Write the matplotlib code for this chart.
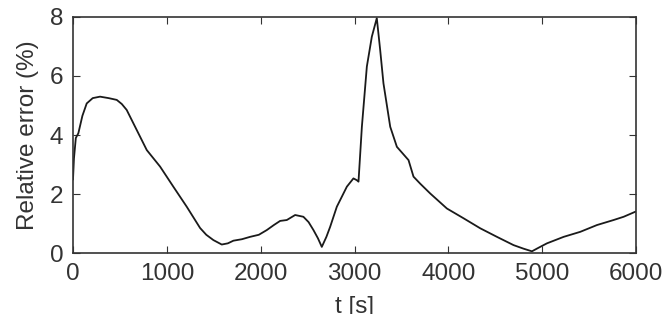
import matplotlib
matplotlib.use("Agg")
import matplotlib.pyplot as plt

t = [0, 10, 30, 57, 100, 146, 210, 288, 380, 466, 520, 572, 679, 786, 928, 1069, 1212,
     1354, 1420, 1496, 1585, 1650, 1709, 1800, 1887, 1980, 2065, 2140, 2207, 2278, 2367,
     2455, 2510, 2562, 2610, 2651, 2700, 2740, 2811, 2918, 2988, 3024, 3042, 3078, 3131,
     3184, 3237, 3273, 3308, 3380, 3451, 3575, 3628, 3700, 3806, 3984, 4161, 4339, 4517,
     4694, 4800, 4890, 4960, 5050, 5228, 5405, 5583, 5760, 5867, 5991]
err = [2.5, 3.2, 3.9, 4.06, 4.65, 5.07, 5.25, 5.30, 5.25, 5.19, 5.05, 4.85, 4.17, 3.49,
       2.93, 2.25, 1.57, 0.85, 0.62, 0.44, 0.29, 0.33, 0.42, 0.47, 0.55, 0.62, 0.78, 0.95,
       1.09, 1.12, 1.29, 1.23, 1.05, 0.78, 0.50, 0.21, 0.55, 0.89, 1.57, 2.25, 2.53, 2.47,
       2.42, 4.28, 6.32, 7.33, 7.96, 6.88, 5.75, 4.28, 3.60, 3.15, 2.59, 2.35, 2.02, 1.51,
       1.18, 0.84, 0.55, 0.27, 0.15, 0.06, 0.18, 0.33, 0.55, 0.72, 0.95, 1.12, 1.23, 1.40]
xticks = [0, 1000, 2000, 3000, 4000, 5000, 6000]
yticks = [0, 2, 4, 6, 8]

plt.rcParams['font.family'] = ['Liberation Sans', 'DejaVu Sans']
fig = plt.figure(figsize=(6.71, 3.14), dpi=100)
ax = fig.add_axes([0.1088, 0.194, 0.8392, 0.752])
ax.plot(t, err, color='#1a1a1a', lw=1.3)
ax.set_xlim(0, 6000)
ax.set_ylim(0, 8)
ax.set_xticks(xticks)
ax.set_yticks(yticks)
ax.tick_params(direction='in', top=True, right=True, labelsize=17.5, length=5,
               colors='#333333', labelcolor='#333333', pad=7)
for s in ax.spines.values():
    s.set_color('#333333')
    s.set_linewidth(1.2)
ax.set_xlabel('t [s]', fontsize=17.5, color='#333333', labelpad=8)
ax.set_ylabel('Relative error (%)', fontsize=17.5, color='#333333', labelpad=8)
fig.savefig('out.png', dpi=100)
